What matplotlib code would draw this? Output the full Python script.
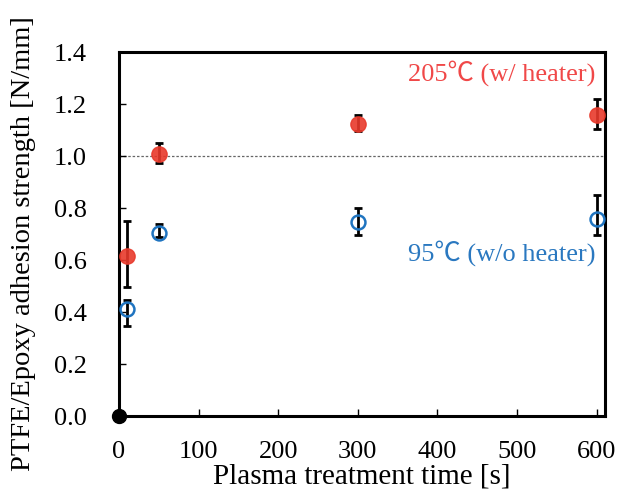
import numpy as np
import matplotlib.pyplot as plt

plt.rcParams.update({"font.family": ["Liberation Serif", "Noto Sans CJK JP", "DejaVu Serif"]})

# plasma treatment time [s]
t = [10, 50, 300, 600]

# 205C (w/ heater)
red_y = [0.614, 1.007, 1.124, 1.159]
red_lo = [0.498, 0.975, 1.095, 1.104]
red_hi = [0.751, 1.050, 1.159, 1.220]

# 95C (w/o heater)
blue_y = [0.413, 0.706, 0.746, 0.760]
blue_lo = [0.348, 0.689, 0.696, 0.696]
blue_hi = [0.448, 0.738, 0.800, 0.849]

red = "#e8392b"
blue = "#1f74c0"

fig = plt.figure(figsize=(6.19, 4.96), dpi=100)
ax = fig.add_axes([0.192, 0.161, 0.785, 0.734])

ax.axhline(1.0, color="#666666", lw=0.9, ls=(0, (2, 1.5)), zorder=1)

ry = np.array(red_y)
ax.errorbar(t, red_y, yerr=[ry - np.array(red_lo), np.array(red_hi) - ry],
            fmt="none", ecolor="black", elinewidth=2, capsize=3, capthick=2, zorder=2)
ax.plot(t, red_y, "o", ms=11, color=red, mec=red, alpha=0.9, zorder=3)

by = np.array(blue_y)
ax.errorbar(t, blue_y, yerr=[by - np.array(blue_lo), np.array(blue_hi) - by],
            fmt="none", ecolor="black", elinewidth=2, capsize=3, capthick=2, zorder=2)
ax.plot(t, blue_y, "o", ms=10, mfc="none", mec=blue, mew=1.8, zorder=3)

# origin dot
ax.plot([0], [0], "o", ms=10, color="black", clip_on=False, zorder=5)

ax.text(598, 1.32, "205\u2103 (w/ heater)", color="#f04848", fontsize=19,
        ha="right", va="center")
ax.text(598, 0.627, "95\u2103 (w/o heater)", color="#2a78c0", fontsize=19,
        ha="right", va="center")

ax.set_xlim(0, 610)
ax.set_ylim(0, 1.4)
ax.set_xticks(range(0, 601, 100))
ax.set_yticks(np.arange(0, 1.41, 0.2))
ax.set_yticklabels([f"{v:.1f}" for v in np.arange(0, 1.41, 0.2)])
ax.tick_params(axis="both", direction="in", labelsize=19, width=1.0, length=5)
ax.tick_params(axis="y", pad=23)
ax.tick_params(axis="x", pad=18)
for s in ax.spines.values():
    s.set_linewidth(2.2)

ax.set_xlabel("Plasma treatment time [s]", fontsize=21, labelpad=0)
ax.set_ylabel("PTFE/Epoxy adhesion strength [N/mm]", fontsize=20.5)
ax.yaxis.set_label_coords(-0.17, 0.475)

fig.savefig("out.png", dpi=100)
